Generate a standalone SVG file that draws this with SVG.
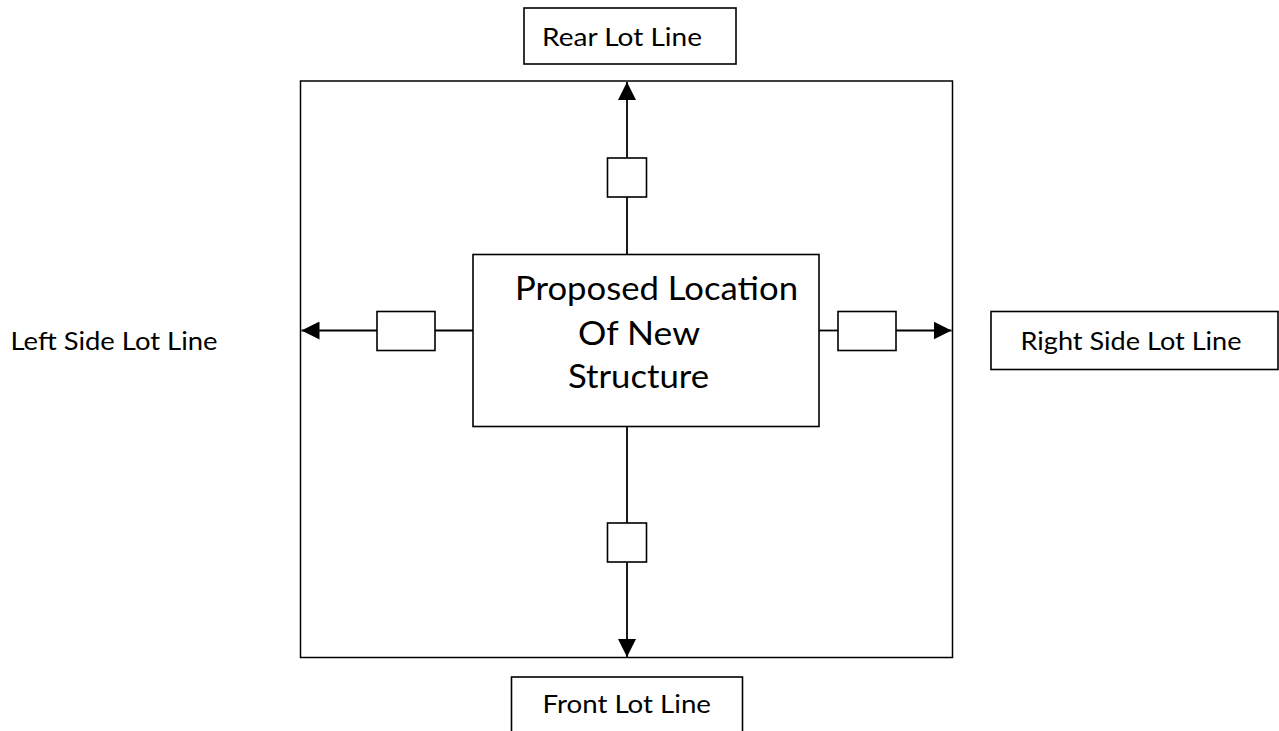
<svg xmlns="http://www.w3.org/2000/svg" width="1279" height="731" viewBox="0 0 1279 731">
<style>
.box{fill:#fff;stroke:#000;stroke-width:1.6}
.lot{fill:none;stroke:#000;stroke-width:1.5}
.conn{stroke:#000;stroke-width:1.8;fill:none}
.lbl{font-family:Lato,"Open Sans","Liberation Sans",sans-serif;font-size:25px;fill:#000}
.main{font-family:Lato,"Open Sans","Liberation Sans",sans-serif;font-size:33px;fill:#000}
</style>
<defs>
<marker id="arr" markerUnits="userSpaceOnUse" markerWidth="18" markerHeight="18" viewBox="0 0 16 16" refX="16" refY="8" orient="auto">
<path d="M0,0 L16,8 L0,16 Z" fill="#000"/>
</marker>
</defs>
<rect width="1279" height="731" fill="#fff"/>
<g id="lot">
<rect class="lot" x="300.5" y="81" width="652" height="576.5"/>
</g>
<g id="connectors">
<line class="conn" x1="627" y1="254" x2="627" y2="197"/>
<line class="conn" x1="627" y1="158" x2="627" y2="82" marker-end="url(#arr)"/>
<line class="conn" x1="473" y1="330.5" x2="435" y2="330.5"/>
<line class="conn" x1="377" y1="330.5" x2="301.5" y2="330.5" marker-end="url(#arr)"/>
<line class="conn" x1="819" y1="330.5" x2="838" y2="330.5"/>
<line class="conn" x1="896" y1="330.5" x2="951.5" y2="330.5" marker-end="url(#arr)"/>
<line class="conn" x1="627" y1="426" x2="627" y2="523"/>
<line class="conn" x1="627" y1="562" x2="627" y2="657" marker-end="url(#arr)"/>
</g>
<g id="rear">
<rect class="box" x="524" y="8" width="212" height="56"/>
<text class="lbl" x="542" y="45.5" textLength="160" lengthAdjust="spacingAndGlyphs">Rear Lot Line</text>
</g>
<g id="front">
<rect class="box" x="511.5" y="677" width="231" height="70"/>
<text class="lbl" x="542.5" y="713" textLength="168.5" lengthAdjust="spacingAndGlyphs">Front Lot Line</text>
</g>
<g id="left">
<text class="lbl" x="10.5" y="350" textLength="207" lengthAdjust="spacingAndGlyphs">Left Side Lot Line</text>
</g>
<g id="right">
<rect class="box" x="991" y="311.5" width="287" height="58"/>
<text class="lbl" x="1020.5" y="350" textLength="221" lengthAdjust="spacingAndGlyphs">Right Side Lot Line</text>
</g>
<g id="structure">
<rect class="box" x="473" y="254.5" width="346" height="172"/>
<text class="main" x="515" y="299.5" textLength="283" lengthAdjust="spacingAndGlyphs">Proposed Location</text>
<text class="main" x="578" y="344.5" textLength="122" lengthAdjust="spacingAndGlyphs">Of New</text>
<text class="main" x="568" y="388" textLength="141" lengthAdjust="spacingAndGlyphs">Structure</text>
</g>
<g id="setback-rear"><rect class="box" x="607.5" y="158" width="39" height="39"/></g>
<g id="setback-left"><rect class="box" x="377" y="311.5" width="58" height="39"/></g>
<g id="setback-right"><rect class="box" x="838" y="311.5" width="58" height="39"/></g>
<g id="setback-front"><rect class="box" x="607.5" y="523" width="39" height="39"/></g>
</svg>
